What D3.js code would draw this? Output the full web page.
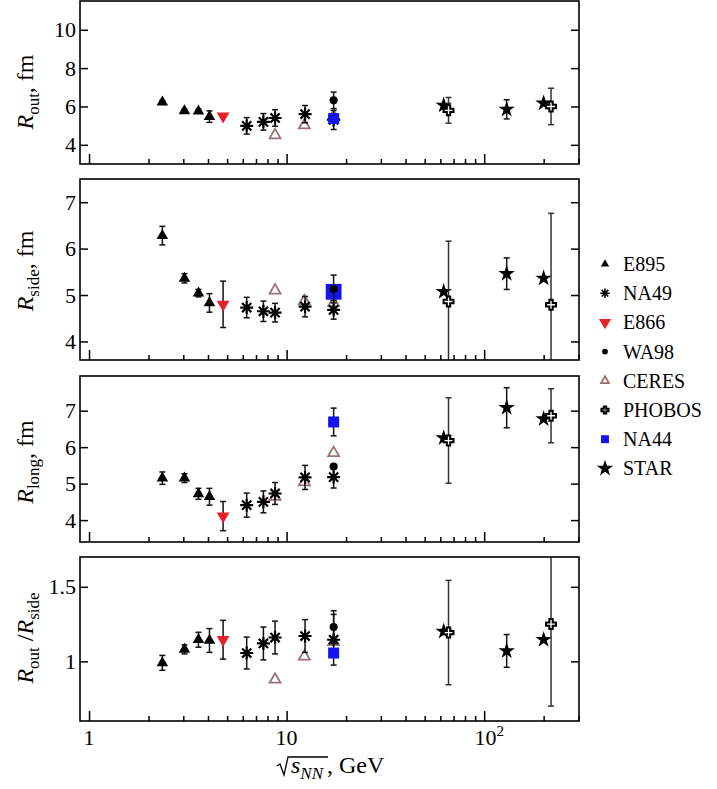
<!DOCTYPE html>
<html>
<head>
<meta charset="utf-8">
<script src="https://cdn.jsdelivr.net/npm/d3@7"></script>
<style>
  body { margin: 0; background: #fff; }
  svg { display: block; }
</style>
</head>
<body>
<svg id="chart" width="717" height="789"></svg>
<script>
// sqrt(s_NN), GeV, and [value, error] for Rout, Rside, Rlong, Rout/Rside
const E895_x = [2.35, 3.04, 3.58, 4.07];
const E895_out = [[6.23, 0.08], [5.77, 0.08], [5.75, 0.1], [5.47, 0.3]];
const E895_side = [[6.28, 0.2], [5.36, 0.1], [5.04, 0.08], [4.83, 0.2]];
const E895_long = [[5.15, 0.17], [5.15, 0.12], [4.72, 0.15], [4.64, 0.23]];
const E895_ratio = [[0.99, 0.05], [1.08, 0.03], [1.145, 0.05], [1.14, 0.08]];

const E866_x = [4.77];
const E866_out = [[5.5, 0]];
const E866_side = [[4.8, 0.5]];
const E866_long = [[4.11, 0.4]];
const E866_ratio = [[1.145, 0.13]];

const CERES_x = [8.74, 12.3, 17.3];
const CERES_out = [[4.5, 0], [5.02, 0], [5.5, 0]];
const CERES_side = [[5.1, 0], [4.87, 0], [4.83, 0]];
const CERES_long = [[4.64, 0], [5.04, 0], [5.84, 0]];
const CERES_ratio = [[0.878, 0], [1.033, 0], [1.13, 0]];

const NA49_x = [6.28, 7.63, 8.74, 12.4, 17.3];
const NA49_out = [[4.99, 0.43], [5.2, 0.43], [5.4, 0.43], [5.6, 0.45], [5.3, 0.5]];
const NA49_side = [[4.73, 0.22], [4.65, 0.22], [4.62, 0.2], [4.75, 0.22], [4.68, 0.2]];
const NA49_long = [[4.41, 0.33], [4.5, 0.3], [4.73, 0.3], [5.17, 0.33], [5.18, 0.3]];
const NA49_ratio = [[1.056, 0.107], [1.12, 0.11], [1.16, 0.11], [1.17, 0.11], [1.145, 0.17]];

const NA44_x = [17.3];
const NA44_out = [[5.37, 0.1]];
const NA44_side = [[5.07, 0]];
const NA44_long = [[6.69, 0.38]];
const NA44_ratio = [[1.056, 0]];

const WA98_x = [17.3];
const WA98_out = [[6.32, 0.43]];
const WA98_side = [[5.13, 0.3]];
const WA98_long = [[5.47, 0]];
const WA98_ratio = [[1.23, 0.11]];

const STAR_x = [62.4, 130, 200];
const STAR_out = [[6.06, 0], [5.85, 0.5], [6.17, 0]];
const STAR_side = [[5.07, 0], [5.46, 0.34], [5.36, 0]];
const STAR_long = [[6.25, 0], [7.08, 0.55], [6.77, 0]];
const STAR_ratio = [[1.2, 0], [1.07, 0.11], [1.145, 0]];

const PHOBOS_x = [66, 218];
const PHOBOS_out = [[5.8, 0.67], [6.0, 0.95]];
const PHOBOS_side = [[4.86, 1.3], [4.79, 1.97]];
const PHOBOS_long = [[6.18, 1.17], [6.86, 0.74]];
const PHOBOS_ratio = [[1.193, 0.35], [1.25, 0.55]];

const legendNames = ['E895', 'NA49', 'E866', 'WA98', 'CERES', 'PHOBOS', 'NA44', 'STAR'];

const yTicksOut = [4, 6, 8, 10];
const yTicksSide = [4, 5, 6, 7];
const yTicksLong = [4, 5, 6, 7];
const yTicksRatio = [1, 1.5];
const xMajor = [1, 10, 100];
const xMinor = [2, 3, 4, 5, 6, 7, 8, 9, 20, 30, 40, 50, 60, 70, 80, 90, 200, 300];

const series = [
  { name: 'E895', type: 'tri', x: E895_x, out: E895_out, side: E895_side, long: E895_long, ratio: E895_ratio },
  { name: 'E866', type: 'triDown', x: E866_x, out: E866_out, side: E866_side, long: E866_long, ratio: E866_ratio },
  { name: 'CERES', type: 'openTri', x: CERES_x, out: CERES_out, side: CERES_side, long: CERES_long, ratio: CERES_ratio },
  { name: 'NA49', type: 'aster', x: NA49_x, out: NA49_out, side: NA49_side, long: NA49_long, ratio: NA49_ratio },
  { name: 'NA44', type: 'square', x: NA44_x, out: NA44_out, side: NA44_side, long: NA44_long, ratio: NA44_ratio },
  { name: 'WA98', type: 'circle', x: WA98_x, out: WA98_out, side: WA98_side, long: WA98_long, ratio: WA98_ratio },
  { name: 'STAR', type: 'star', x: STAR_x, out: STAR_out, side: STAR_side, long: STAR_long, ratio: STAR_ratio },
  { name: 'PHOBOS', type: 'cross', x: PHOBOS_x, out: PHOBOS_out, side: PHOBOS_side, long: PHOBOS_long, ratio: PHOBOS_ratio }
];
const typeOf = Object.fromEntries(series.map(s => [s.name, s.type]));

const FONT = '"Liberation Serif", "Times New Roman", serif';
const svg = d3.select('#chart');
const left = 80, right = 579;

const x = d3.scaleLog().domain([0.9, 302]).range([left, right]);

const panels = [
  { key: 'out', top: 1, bottom: 164, domain: [3, 11.5], ticks: yTicksOut, labelY: 92 },
  { key: 'side', top: 179, bottom: 360, domain: [3.6, 7.5], ticks: yTicksSide, labelY: 271, bigSquare: true },
  { key: 'long', top: 376, bottom: 542, domain: [3.4, 7.95], ticks: yTicksLong, labelY: 462 },
  { key: 'ratio', top: 557, bottom: 721, domain: [0.6, 1.7], ticks: yTicksRatio, labelY: 638 }
];

const RED = '#e8202a', BLUE = '#1414f0', CERES_C = '#9a7276';

function marker(g, type, cx, cy, k) {
  k = k || 1;
  const sym = (t, size) => d3.symbol(t, size * k * k)();
  const at = `translate(${cx},${cy})`;
  if (type === 'tri') {
    g.append('path').attr('d', sym(d3.symbolTriangle, 58)).attr('transform', at).attr('fill', '#000');
  } else if (type === 'triDown') {
    g.append('path').attr('d', sym(d3.symbolTriangle, 70)).attr('transform', at + ' rotate(180)').attr('fill', RED);
  } else if (type === 'openTri') {
    g.append('path').attr('d', sym(d3.symbolTriangle, 52)).attr('transform', at)
      .attr('fill', 'none').attr('stroke', CERES_C).attr('stroke-width', 1.8);
  } else if (type === 'aster') {
    const r = 6.5 * k;
    const p = d3.path();
    [0, 45, 90, 135].forEach(a => {
      const t = a * Math.PI / 180;
      p.moveTo(-r * Math.cos(t), -r * Math.sin(t));
      p.lineTo(r * Math.cos(t), r * Math.sin(t));
    });
    g.append('path').attr('d', p.toString()).attr('transform', at)
      .attr('stroke', '#000').attr('stroke-width', 2.2 * Math.max(k, 0.7)).attr('fill', 'none');
  } else if (type === 'square' || type === 'bigSquare') {
    g.append('path').attr('d', sym(d3.symbolSquare, type === 'bigSquare' ? 250 : 121)).attr('transform', at).attr('fill', BLUE);
  } else if (type === 'circle') {
    g.append('path').attr('d', sym(d3.symbolCircle, 52)).attr('transform', at).attr('fill', '#000');
  } else if (type === 'star') {
    g.append('path').attr('d', sym(d3.symbolStar, 85)).attr('transform', at).attr('fill', '#000');
  } else if (type === 'cross') {
    g.append('path').attr('d', sym(d3.symbolCross, 55)).attr('transform', at)
      .attr('fill', '#fff').attr('stroke', '#000').attr('stroke-width', 2);
  }
}

panels.forEach((p, i) => {
  const y = d3.scaleLinear().domain(p.domain).range([p.bottom, p.top]);
  const g = svg.append('g');

  const clipId = 'clip' + i;
  svg.append('clipPath').attr('id', clipId)
    .append('rect').attr('x', left).attr('y', p.top).attr('width', right - left).attr('height', p.bottom - p.top);

  // axes, ticks pointing inward
  g.append('g').attr('transform', `translate(${left},0)`)
    .call(d3.axisLeft(y).tickValues(p.ticks).tickSize(-8).tickPadding(4).tickFormat(d3.format('')))
    .call(a => a.select('.domain').remove())
    .call(a => a.selectAll('line').attr('stroke-width', 1.5))
    .call(a => a.selectAll('text').attr('fill', '#000').style('font-size', '22px'));
  g.append('g').attr('transform', `translate(${right},0)`)
    .call(d3.axisRight(y).tickValues(p.ticks).tickSize(-8).tickFormat(''))
    .call(a => a.select('.domain').remove())
    .call(a => a.selectAll('line').attr('stroke-width', 1.5));
  g.append('g').attr('transform', `translate(0,${p.bottom})`)
    .call(d3.axisBottom(x).tickValues(xMajor).tickSize(-10).tickFormat(''))
    .call(a => a.select('.domain').remove())
    .call(a => a.selectAll('line').attr('stroke-width', 1.5));
  g.append('g').attr('transform', `translate(0,${p.bottom})`)
    .call(d3.axisBottom(x).tickValues(xMinor).tickSize(-5).tickFormat(''))
    .call(a => a.select('.domain').remove())
    .call(a => a.selectAll('line').attr('stroke-width', 1.5));

  // data
  const dg = g.append('g').attr('clip-path', `url(#${clipId})`);
  series.forEach(s => {
    const pts = s.x.map((xv, j) => ({ x: xv, v: s[p.key][j][0], e: s[p.key][j][1] }));
    const eb = dg.append('g').attr('stroke', s.name === 'PHOBOS' ? '#333' : '#111').attr('stroke-width', 1.5);
    pts.filter(d => d.e > 0).forEach(d => {
      const cx = x(d.x), y0 = y(d.v - d.e), y1 = y(d.v + d.e);
      eb.append('line').attr('x1', cx).attr('x2', cx).attr('y1', y0).attr('y2', y1);
      eb.append('line').attr('x1', cx - 3).attr('x2', cx + 3).attr('y1', y0).attr('y2', y0);
      eb.append('line').attr('x1', cx - 3).attr('x2', cx + 3).attr('y1', y1).attr('y2', y1);
    });
    const t = (s.type === 'square' && p.bigSquare) ? 'bigSquare' : s.type;
    pts.forEach(d => marker(dg, t, x(d.x), y(d.v), 1));
  });

  g.append('rect').attr('x', left).attr('y', p.top).attr('width', right - left).attr('height', p.bottom - p.top)
    .attr('fill', 'none').attr('stroke', '#000').attr('stroke-width', 1.6);

  // y label
  const lab = svg.append('text').attr('transform', `translate(33,${p.labelY}) rotate(-90)`)
    .attr('text-anchor', 'middle').style('font-size', '24px').attr('fill', '#000');
  if (p.key === 'ratio') {
    lab.append('tspan').style('font-style', 'italic').text('R');
    lab.append('tspan').style('font-size', '17px').attr('dy', 6).text('out');
    lab.append('tspan').attr('dy', -6).text(' /');
    lab.append('tspan').style('font-style', 'italic').text('R');
    lab.append('tspan').style('font-size', '17px').attr('dy', 6).text('side');
  } else {
    lab.append('tspan').style('font-style', 'italic').text('R');
    lab.append('tspan').style('font-size', '17px').attr('dy', 6).text(p.key);
    lab.append('tspan').attr('dy', -6).text(', fm');
  }
});

// x tick labels (bottom panel only)
const xl = svg.append('g').attr('fill', '#000').attr('text-anchor', 'middle');
xl.append('text').attr('x', x(1)).attr('y', 745).style('font-size', '22px').text('1');
xl.append('text').attr('x', x(10)).attr('y', 745).style('font-size', '22px').text('10');
const t100 = xl.append('text').attr('x', x(100) + 5).attr('y', 745).style('font-size', '22px');
t100.append('tspan').text('10');
t100.append('tspan').style('font-size', '15px').attr('dy', -9).text('2');

// x axis title: sqrt(s_NN), GeV
const rad = d3.path();
rad.moveTo(277, 766); rad.lineTo(280, 764); rad.lineTo(284, 775); rad.lineTo(288, 757); rad.lineTo(328, 757);
svg.append('path').attr('d', rad.toString()).attr('fill', 'none').attr('stroke', '#000').attr('stroke-width', 1.3);
const xt = svg.append('text').attr('x', 291).attr('y', 773).style('font-size', '24px').attr('fill', '#000');
xt.append('tspan').style('font-style', 'italic').text('s');
xt.append('tspan').style('font-style', 'italic').style('font-size', '17px').attr('dy', 6).text('NN');
xt.append('tspan').attr('dy', -6).attr('dx', 4).text(', GeV');

// legend
const lg = svg.append('g');
legendNames.forEach((n, i) => {
  const cy = 264 + i * 29.2;
  const tp = typeOf[n];
  const k = tp === 'star' ? 1 : tp === 'triDown' ? 0.95 : 0.72;
  marker(lg, tp, 605, cy, k);
  lg.append('text').attr('x', 623).attr('y', cy + 7).style('font-size', '20px').attr('fill', '#000').text(n);
});

// serif everywhere, set inline so nothing overrides it
svg.selectAll('text').style('font-family', FONT);
</script>
</body>
</html>
